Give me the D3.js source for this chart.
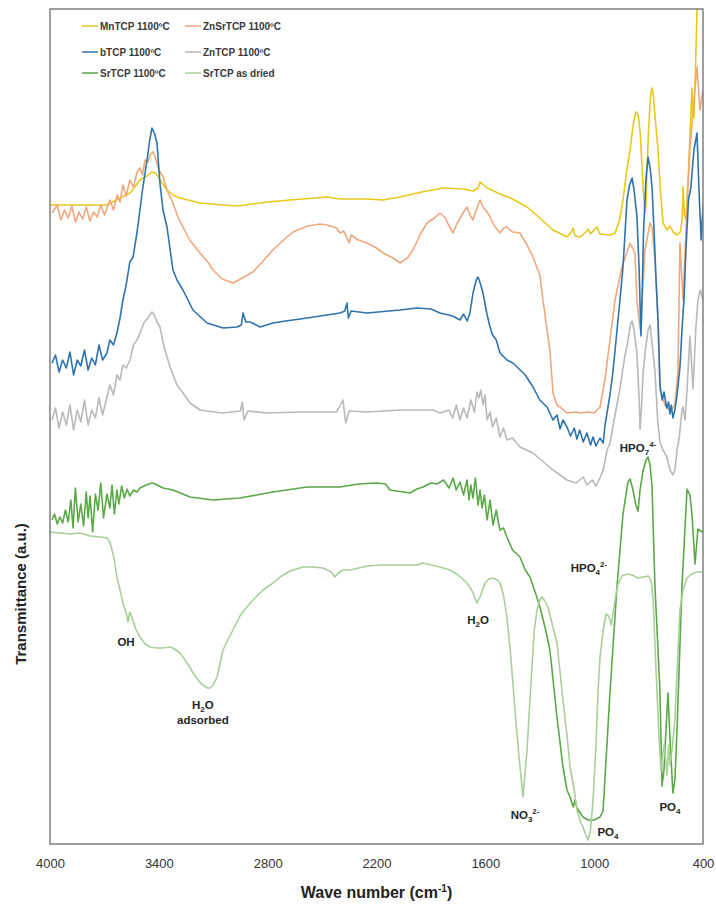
<!DOCTYPE html>
<html>
<head>
<meta charset="utf-8">
<script src="https://cdn.jsdelivr.net/npm/d3@7"></script>
<style>
  body { margin: 0; background: #fff; }
  text { font-family: "Liberation Sans", Arial, sans-serif; }
</style>
</head>
<body>
<svg id="drawing_region"></svg>
<script>
// [wavenumber (cm-1), transmittance (a.u.)]
const mnTCP = [[4000,639],[3800,639],[3686,639],[3614,646],[3559,651],[3504,664],[3465,668],[3438,672],[3421,671],[3405,668],[3394,664],[3355,654],[3322,649],[3283,646],[3173,641],[3046,639],[2969,638],[2800,642],[2677,644],[2473,647],[2401,645],[2250,645],[2164,644],[2070,647],[1950,652],[1833,656],[1720,655],[1668,653],[1640,656],[1629,662],[1590,656],[1519,650],[1450,645],[1370,637],[1300,626],[1227,614],[1150,607],[1125,612],[1117,616],[1105,608],[1078,607],[1045,612],[1034,615],[1020,610],[1000,614],[984,617],[970,610],[913,609],[885,611],[860,624],[841,644],[820,674],[802,694],[785,719],[772,731],[765,732],[755,726],[745,709],[738,684],[728,649],[720,631],[714,639],[709,674],[700,714],[690,746],[682,756],[675,751],[665,729],[648,694],[635,654],[620,621],[598,614],[582,618],[565,612],[543,609],[525,612],[515,624],[510,657],[502,629],[494,624],[480,674],[461,756],[455,734],[450,726],[440,784],[433,834],[417,836],[400,836]];

const znSrTCP = [[3989,631],[3960,639],[3940,624],[3920,634],[3900,626],[3880,638],[3860,622],[3840,632],[3820,625],[3800,637],[3780,623],[3760,632],[3740,627],[3720,639],[3700,629],[3686,636],[3670,644],[3650,634],[3630,649],[3614,642],[3598,659],[3580,648],[3560,664],[3540,657],[3520,672],[3504,676],[3490,669],[3476,684],[3460,682],[3449,689],[3438,691],[3430,692],[3415,684],[3400,674],[3377,667],[3355,654],[3322,641],[3295,627],[3267,617],[3230,604],[3173,591],[3130,582],[3101,574],[3050,565],[2991,561],[2960,564],[2920,568],[2881,572],[2830,582],[2771,594],[2700,606],[2660,612],[2580,618],[2512,620],[2473,619],[2420,616],[2401,611],[2380,613],[2363,606],[2350,601],[2340,609],[2300,604],[2252,601],[2200,596],[2164,591],[2110,586],[2070,581],[2030,586],[1999,594],[1960,609],[1922,621],[1880,626],[1850,631],[1820,626],[1811,622],[1778,611],[1760,619],[1723,631],[1701,637],[1685,629],[1668,624],[1650,634],[1629,644],[1610,636],[1590,632],[1574,627],[1550,618],[1519,611],[1500,616],[1481,617],[1450,612],[1409,611],[1370,599],[1337,587],[1300,569],[1282,544],[1260,514],[1244,494],[1227,451],[1205,439],[1188,437],[1150,431],[1100,432],[1078,431],[1030,432],[1000,431],[968,437],[940,465],[913,504],[885,544],[847,577],[802,601],[775,591],[764,544],[747,515],[736,544],[720,594],[692,621],[681,616],[665,584],[648,524],[637,455],[610,439],[582,433],[555,439],[538,473],[527,601],[510,544],[494,614],[472,694],[450,744],[433,777],[417,734],[400,754]];

const bTCP = [[3989,481],[3970,489],[3950,472],[3930,484],[3910,476],[3890,492],[3870,469],[3850,484],[3830,478],[3810,494],[3790,474],[3770,486],[3750,479],[3730,499],[3710,484],[3686,491],[3670,504],[3650,499],[3631,511],[3614,526],[3598,544],[3580,559],[3560,582],[3542,587],[3520,612],[3504,634],[3490,654],[3465,684],[3450,704],[3438,716],[3425,711],[3410,701],[3394,661],[3377,634],[3355,617],[3322,574],[3300,564],[3267,554],[3212,534],[3134,521],[3046,516],[2969,517],[2945,519],[2936,531],[2920,522],[2897,522],[2842,517],[2771,521],[2700,523],[2583,526],[2473,529],[2401,531],[2375,533],[2363,541],[2355,526],[2340,533],[2252,531],[2070,534],[1977,536],[1900,535],[1850,531],[1780,528],[1740,524],[1720,530],[1700,523],[1685,531],[1668,551],[1650,564],[1640,567],[1625,559],[1613,551],[1590,529],[1574,517],[1560,509],[1540,504],[1519,491],[1481,484],[1448,481],[1425,477],[1380,469],[1337,457],[1300,444],[1260,437],[1227,424],[1205,429],[1188,415],[1172,424],[1150,417],[1130,408],[1110,416],[1095,405],[1080,414],[1060,402],[1040,411],[1020,399],[1006,407],[990,398],[968,406],[950,401],[940,419],[913,449],[896,473],[874,514],[858,544],[841,577],[819,644],[805,659],[791,666],[780,654],[764,627],[752,574],[742,508],[736,544],[728,611],[715,664],[703,687],[690,674],[681,657],[670,614],[660,569],[648,524],[637,458],[625,444],[615,452],[600,436],[590,442],[582,430],[575,439],[566,426],[555,434],[543,449],[527,477],[516,514],[505,544],[494,594],[480,644],[467,656],[450,694],[433,711],[420,644],[410,604],[400,639]];

const znTCP = [[3989,424],[3970,436],[3950,416],[3930,432],[3910,419],[3890,439],[3870,414],[3850,434],[3830,422],[3810,444],[3790,419],[3770,434],[3750,426],[3730,446],[3710,429],[3686,447],[3670,459],[3650,449],[3631,469],[3614,464],[3598,479],[3580,476],[3559,484],[3540,499],[3520,504],[3504,511],[3480,522],[3460,526],[3438,532],[3425,529],[3410,522],[3394,517],[3370,496],[3338,477],[3300,459],[3267,451],[3228,441],[3173,434],[3050,431],[2950,433],[2940,442],[2930,424],[2910,433],[2800,431],[2622,432],[2420,432],[2385,444],[2370,421],[2350,433],[2252,432],[2070,434],[1889,434],[1850,431],[1800,434],[1780,426],[1760,439],[1740,424],[1720,436],[1700,426],[1680,444],[1660,432],[1646,452],[1635,446],[1625,454],[1613,439],[1602,449],[1590,424],[1574,432],[1560,417],[1540,426],[1519,407],[1500,416],[1481,404],[1450,406],[1409,397],[1337,391],[1260,379],[1227,374],[1188,369],[1150,364],[1100,361],[1060,367],[1040,359],[1010,364],[990,358],[968,366],[950,374],[929,394],[913,401],[880,434],[858,455],[830,489],[819,498],[800,519],[791,523],[780,514],[764,490],[752,444],[747,415],[740,434],[731,469],[720,490],[703,514],[692,519],[680,499],[665,473],[650,424],[637,401],[620,394],[599,387],[582,374],[566,369],[555,374],[543,394],[530,408],[516,434],[510,437],[499,424],[488,454],[472,508],[455,455],[440,514],[428,544],[415,554],[400,544]];

const srTCP = [[3989,324],[3975,330],[3960,320],[3945,327],[3930,321],[3915,334],[3900,322],[3885,344],[3873,316],[3860,356],[3845,322],[3830,340],[3815,318],[3800,352],[3790,326],[3779,348],[3765,312],[3750,350],[3735,334],[3720,361],[3705,326],[3686,350],[3670,336],[3658,359],[3645,330],[3631,354],[3620,340],[3605,358],[3590,346],[3575,355],[3560,348],[3540,354],[3520,352],[3504,356],[3470,359],[3438,361],[3420,360],[3377,356],[3322,354],[3228,347],[3101,344],[2953,346],[2771,352],[2583,357],[2401,357],[2300,360],[2200,361],[2150,360],[2126,354],[2015,351],[1977,355],[1944,357],[1900,361],[1867,360],[1830,364],[1800,356],[1778,366],[1760,354],[1740,362],[1720,349],[1701,364],[1690,344],[1680,359],[1668,346],[1655,366],[1640,339],[1629,354],[1618,336],[1605,349],[1590,324],[1574,344],[1558,319],[1540,334],[1520,314],[1500,316],[1481,307],[1450,294],[1409,287],[1380,274],[1354,267],[1320,249],[1299,237],[1270,216],[1244,194],[1205,127],[1172,77],[1150,54],[1133,47],[1115,37],[1105,44],[1095,36],[1062,27],[1034,24],[1000,24],[968,27],[951,33],[913,151],[874,258],[841,330],[814,362],[802,365],[786,354],[770,339],[758,333],[747,354],[731,373],[714,384],[703,387],[692,379],[681,358],[665,258],[648,194],[637,151],[626,58],[615,74],[604,115],[593,151],[582,105],[566,51],[555,64],[543,115],[516,258],[488,355],[472,349],[461,330],[444,280],[428,315],[406,312],[400,314]];

const srTCPDried = [[4000,312],[3945,311],[3890,310],[3835,311],[3779,308],[3720,307],[3686,306],[3670,302],[3658,294],[3645,284],[3631,267],[3614,254],[3598,241],[3580,231],[3570,222],[3560,232],[3548,227],[3530,216],[3504,207],[3476,200],[3449,197],[3410,196],[3377,196],[3340,197],[3322,196],[3290,192],[3267,187],[3230,177],[3212,171],[3170,161],[3134,156],[3118,156],[3100,159],[3079,167],[3046,194],[3020,204],[2991,214],[2950,229],[2914,237],[2870,246],[2826,254],[2770,261],[2732,267],[2677,273],[2605,277],[2550,277],[2495,276],[2450,272],[2429,267],[2410,271],[2385,274],[2346,274],[2250,278],[2164,279],[2070,279],[1977,279],[1944,281],[1900,279],[1850,277],[1795,274],[1750,269],[1701,261],[1670,252],[1646,241],[1625,249],[1602,261],[1580,265],[1558,266],[1535,264],[1519,261],[1500,249],[1481,227],[1465,199],[1448,161],[1430,119],[1409,77],[1392,47],[1380,74],[1370,94],[1354,144],[1343,177],[1330,214],[1315,234],[1300,244],[1288,247],[1275,244],[1255,237],[1230,219],[1205,201],[1172,144],[1150,109],[1133,77],[1110,54],[1095,34],[1075,22],[1062,17],[1045,9],[1034,4],[1020,14],[1006,44],[990,99],[984,127],[978,154],[968,187],[950,214],[935,230],[920,228],[905,219],[885,244],[870,259],[847,268],[820,270],[790,269],[760,266],[730,267],[700,268],[685,262],[675,245],[665,200],[654,154],[643,109],[632,74],[626,84],[615,99],[605,82],[598,69],[590,99],[582,79],[571,94],[555,124],[540,184],[527,234],[510,254],[488,266],[470,269],[450,271],[430,272],[400,272]];

const seriesData = [mnTCP, znSrTCP, bTCP, znTCP, srTCP, srTCPDried];
const seriesNames = ['MnTCP 1100ºC', 'ZnSrTCP 1100ºC', 'bTCP 1100ºC', 'ZnTCP 1100ºC', 'SrTCP 1100ºC', 'SrTCP as dried'];
const seriesColors = ['#e9c81c', '#efa87e', '#2f73ad', '#b9b9bb', '#5ba847', '#a8cf9b'];
const xTicks = [4000, 3400, 2800, 2200, 1600, 1000, 400];

// band assignments: [text parts, wavenumber, a.u.]  ('_' = subscript, '^' = superscript)
const bandLabels = [
    [['OH'], 3581, 198],
    [['H', '_2', 'O'], 3157, 135],
    [['adsorbed'], 3157, 120],
    [['H', '_2', 'O'], 1640, 220],
    [['NO', '_3', '^2-'], 1381, 25],
    [['PO', '_4'], 924, 8],
    [['PO', '_4'], 582, 33],
    [['HPO', '_4', '^2-'], 1029, 272],
    [['HPO', '_7', '^4-'], 758, 392]
];

const config = {
    width: 716,
    height: 909,
    margin: { top: 9, right: 13, bottom: 65, left: 50 }
};
const inner_width = config.width - config.margin.left - config.margin.right;
const inner_height = config.height - config.margin.top - config.margin.bottom;

const svg = d3.select('#drawing_region')
    .attr('width', config.width)
    .attr('height', config.height);

const chart = svg.append('g')
    .attr('transform', `translate(${config.margin.left}, ${config.margin.top})`);

const xscale = d3.scaleLinear().domain([4000, 400]).range([0, inner_width]);
const yscale = d3.scaleLinear().domain([0, 835]).range([inner_height, 0]);

chart.append('clipPath').attr('id', 'clip')
    .append('rect').attr('width', inner_width).attr('height', inner_height);

const line = d3.line()
    .x(d => xscale(d[0]))
    .y(d => yscale(d[1]));

chart.append('g').attr('clip-path', 'url(#clip)')
    .selectAll('path')
    .data(seriesData)
    .join('path')
    .attr('d', line)
    .attr('fill', 'none')
    .attr('stroke', (d, i) => seriesColors[i])
    .attr('stroke-width', 1.6)
    .attr('stroke-linejoin', 'round');

// plot frame
chart.append('rect')
    .attr('width', inner_width)
    .attr('height', inner_height)
    .attr('fill', 'none')
    .attr('stroke', '#7f7f7f')
    .attr('stroke-width', 1.5);

// x axis
const xaxis = d3.axisBottom(xscale).tickValues(xTicks).tickFormat(d3.format('d')).tickSize(0).tickPadding(15);
const xaxis_group = chart.append('g')
    .attr('transform', `translate(0, ${inner_height})`)
    .call(xaxis);
xaxis_group.select('.domain').remove();
xaxis_group.selectAll('text')
    .attr('font-family', '"Liberation Sans", Arial, sans-serif')
    .attr('font-size', 13)
    .attr('fill', '#333');

// axis titles
const xtitle = svg.append('text')
    .attr('x', config.margin.left + inner_width / 2)
    .attr('y', 898)
    .attr('text-anchor', 'middle')
    .attr('font-size', 16)
    .attr('font-weight', 'bold')
    .attr('fill', '#222');
xtitle.append('tspan').text('Wave number (cm');
xtitle.append('tspan').attr('font-size', 10).attr('dy', -6).text('-1');
xtitle.append('tspan').attr('dy', 6).text(')');

svg.append('text')
    .attr('transform', 'translate(26, 594) rotate(-90)')
    .attr('text-anchor', 'middle')
    .attr('font-size', 15)
    .attr('font-weight', 'bold')
    .attr('fill', '#222')
    .text('Transmittance (a.u.)');

// legend
const legend = svg.append('g')
    .selectAll('g')
    .data(seriesNames)
    .join('g')
    .attr('transform', (d, i) => `translate(${i % 2 === 0 ? 82 : 185}, ${[26, 52, 73][Math.floor(i / 2)]})`);
legend.append('line')
    .attr('x1', 0).attr('x2', 16)
    .attr('stroke', (d, i) => seriesColors[i])
    .attr('stroke-width', 1.5);
legend.append('text')
    .attr('x', 18)
    .attr('dy', '0.35em')
    .attr('font-size', 10)
    .attr('font-weight', 'bold')
    .attr('fill', '#3a3a3a')
    .text(d => d);

// band labels
bandLabels.forEach(([parts, w, v]) => {
    const t = chart.append('text')
        .attr('x', xscale(w))
        .attr('y', yscale(v))
        .attr('text-anchor', 'middle')
        .attr('font-size', 11.5)
        .attr('font-weight', 'bold')
        .attr('fill', '#262626');
    let shift = 0;
    parts.forEach(p => {
        let target = 0, txt = p, size = null;
        if (p[0] === '_') { target = 3; txt = p.slice(1); size = 8; }
        else if (p[0] === '^') { target = -5; txt = p.slice(1); size = 8; }
        const s = t.append('tspan').attr('dy', target - shift).text(txt);
        if (size) s.attr('font-size', size);
        shift = target;
    });
});
</script>
</body>
</html>
